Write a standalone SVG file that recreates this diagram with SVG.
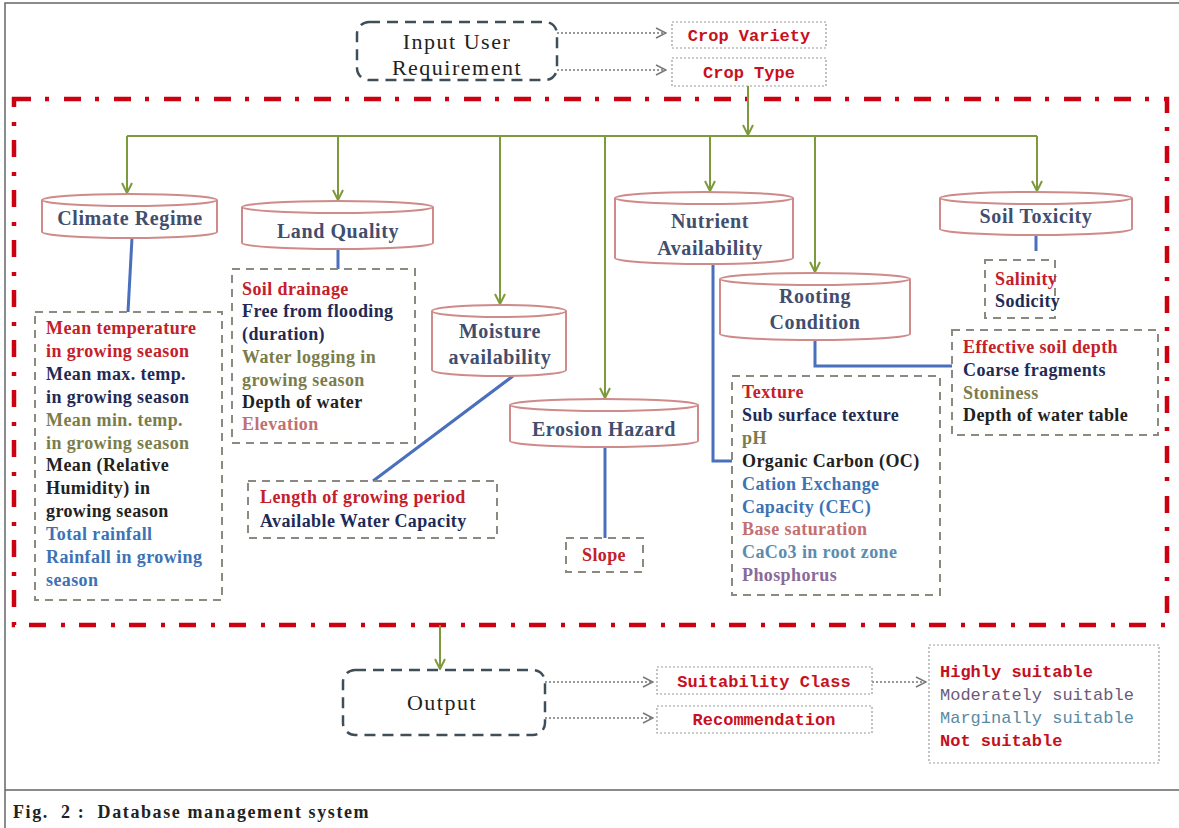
<svg xmlns="http://www.w3.org/2000/svg" width="1179" height="828" viewBox="0 0 1179 828">
<defs>
<marker id="ga" viewBox="0 0 12 12" refX="11" refY="6" markerWidth="12" markerHeight="12" markerUnits="userSpaceOnUse" orient="auto">
<polyline points="1,1 11,6 1,11" fill="none" stroke="#7d9a3c" stroke-width="2"/>
</marker>
<marker id="da" viewBox="0 0 12 12" refX="11" refY="6" markerWidth="12" markerHeight="12" markerUnits="userSpaceOnUse" orient="auto">
<polyline points="1,1 11,6 1,11" fill="none" stroke="#777" stroke-width="1.5"/>
</marker>
</defs>
<style>
.frame{fill:none;stroke:#666;stroke-width:1.5}
.redb{fill:none;stroke:#cc0010;stroke-width:4.5;stroke-dasharray:17 14 4 15}
.io{fill:none;stroke:#3e4f5a;stroke-width:2.5;stroke-dasharray:11 7}
.dot{fill:#fff;stroke:#999;stroke-width:1.2;stroke-dasharray:2 2}
.darr{fill:none;stroke:#777;stroke-width:1.5;stroke-dasharray:2 2}
.grn{fill:none;stroke:#7d9a3c;stroke-width:2}
.blu{fill:none;stroke:#4a6fbd;stroke-width:3}
.cyl{fill:#fff;stroke:#cf8a8a;stroke-width:2}
.dbox{fill:none;stroke:#8a8a80;stroke-width:2;stroke-dasharray:8 6}
.ser{font-family:"Liberation Serif","Times New Roman",serif;font-size:22px;fill:#222;letter-spacing:1.5px}
.cy{font-family:"Liberation Serif","Times New Roman",serif;font-size:20px;font-weight:bold;fill:#414e6e;letter-spacing:0.6px;text-anchor:middle}
.dt{font-family:"Liberation Serif","Times New Roman",serif;font-size:18px;font-weight:bold;letter-spacing:0.4px}
.mono{font-family:"Liberation Mono","Courier New",monospace;font-size:17px;font-weight:bold;fill:#c8101e;text-anchor:middle}
.cls{font-family:"Liberation Mono","Courier New",monospace;font-size:17px}
.red{fill:#c4202a}.nav{fill:#1f2a55}.olv{fill:#7a7d4a}.blk{fill:#222}.bl{fill:#3d72b4}.ros{fill:#c27070}.tea{fill:#5b8cae}.pur{fill:#8a6a98}
</style>

<!-- page frame -->
<g id="frame">
<path class="frame" d="M1179,3 H5 V828 M5,790 H1179"/>
</g>

<!-- red dash-dot boundary -->
<rect id="boundary" class="redb" x="14" y="99" width="1153" height="526"/>

<!-- connectors -->
<g id="connectors">
<path class="darr" d="M557,33 H666" marker-end="url(#da)"/>
<path class="darr" d="M557,70 H666" marker-end="url(#da)"/>
<path class="grn" d="M748,86 V135" marker-end="url(#ga)"/>
<path class="grn" d="M127,136 H1037"/>
<path class="grn" d="M127,136 V193" marker-end="url(#ga)"/>
<path class="grn" d="M338,136 V200" marker-end="url(#ga)"/>
<path class="grn" d="M500,136 V304" marker-end="url(#ga)"/>
<path class="grn" d="M605,136 V398" marker-end="url(#ga)"/>
<path class="grn" d="M710,136 V191" marker-end="url(#ga)"/>
<path class="grn" d="M815,136 V272" marker-end="url(#ga)"/>
<path class="grn" d="M1037,136 V191" marker-end="url(#ga)"/>
<path class="blu" d="M132,238 L128,312"/>
<path class="blu" d="M338,249 V269"/>
<path class="blu" d="M513,376 L373,481"/>
<path class="blu" d="M605,447 V538"/>
<path class="blu" d="M713,264 V461 H732"/>
<path class="blu" d="M815,340 V366 H952"/>
<path class="blu" d="M1036,235 V251"/>
<path class="grn" d="M440,625 V669" marker-end="url(#ga)"/>
<path class="darr" d="M545,682 H653" marker-end="url(#da)"/>
<path class="darr" d="M545,718 H653" marker-end="url(#da)"/>
<path class="darr" d="M872,682 H926" marker-end="url(#da)"/>
</g>

<!-- input -->
<g id="input">
<rect class="io" x="357" y="22" width="200" height="58" rx="12"/>
<text class="ser" x="457" y="49" text-anchor="middle">Input User</text>
<text class="ser" x="457" y="75" text-anchor="middle">Requirement</text>
</g>
<g id="crop-variety">
<rect class="dot" x="672" y="22" width="154" height="26"/>
<text class="mono" x="749" y="41">Crop Variety</text>
</g>
<g id="crop-type">
<rect class="dot" x="672" y="58" width="154" height="28"/>
<text class="mono" x="749" y="78">Crop Type</text>
</g>

<!-- cylinders -->
<g id="climate-regime">
<path class="cyl" d="M42,200 V232 A87.5,6 0 0 0 217,232 V200"/>
<ellipse class="cyl" cx="129.5" cy="200" rx="87.5" ry="6"/>
<text class="cy" x="130" y="225">Climate Regime</text>
</g>
<g id="land-quality">
<path class="cyl" d="M242,207 V243 A95.5,6 0 0 0 433,243 V207"/>
<ellipse class="cyl" cx="337.5" cy="207" rx="95.5" ry="6"/>
<text class="cy" x="338" y="238">Land Quality</text>
</g>
<g id="moisture">
<path class="cyl" d="M432,311 V370 A67,6 0 0 0 566,370 V311"/>
<ellipse class="cyl" cx="499" cy="311" rx="67" ry="6"/>
<text class="cy" x="500" y="338">Moisture</text>
<text class="cy" x="500" y="364">availability</text>
</g>
<g id="erosion-hazard">
<path class="cyl" d="M510,405 V441 A94,6 0 0 0 698,441 V405"/>
<ellipse class="cyl" cx="604" cy="405" rx="94" ry="6"/>
<text class="cy" x="604" y="436">Erosion Hazard</text>
</g>
<g id="nutrient">
<path class="cyl" d="M615,198 V258 A89,6 0 0 0 793,258 V198"/>
<ellipse class="cyl" cx="704" cy="198" rx="89" ry="6"/>
<text class="cy" x="710" y="228">Nutrient</text>
<text class="cy" x="710" y="255">Availability</text>
</g>
<g id="rooting">
<path class="cyl" d="M720,279 V334 A95,6 0 0 0 910,334 V279"/>
<ellipse class="cyl" cx="815" cy="279" rx="95" ry="6"/>
<text class="cy" x="815" y="303">Rooting</text>
<text class="cy" x="815" y="329">Condition</text>
</g>
<g id="soil-toxicity">
<path class="cyl" d="M940,198 V229 A96,6 0 0 0 1132,229 V198"/>
<ellipse class="cyl" cx="1036" cy="198" rx="96" ry="6"/>
<text class="cy" x="1036" y="223">Soil Toxicity</text>
</g>

<!-- detail boxes -->
<g id="climate-details">
<rect class="dbox" x="35" y="312" width="187" height="288"/>
<text class="dt" x="46">
<tspan class="red" x="46" y="334">Mean temperature</tspan>
<tspan class="red" x="46" y="357">in growing season</tspan>
<tspan class="nav" x="46" y="380">Mean max. temp.</tspan>
<tspan class="nav" x="46" y="403">in growing season</tspan>
<tspan class="olv" x="46" y="426">Mean min. temp.</tspan>
<tspan class="olv" x="46" y="449">in growing season</tspan>
<tspan class="blk" x="46" y="471">Mean (Relative</tspan>
<tspan class="blk" x="46" y="494">Humidity) in</tspan>
<tspan class="blk" x="46" y="517">growing season</tspan>
<tspan class="bl" x="46" y="540">Total rainfall</tspan>
<tspan class="bl" x="46" y="563">Rainfall in growing</tspan>
<tspan class="bl" x="46" y="586">season</tspan>
</text>
</g>
<g id="land-details">
<rect class="dbox" x="232" y="269" width="183" height="174"/>
<text class="dt">
<tspan class="red" x="242" y="295">Soil drainage</tspan>
<tspan class="nav" x="242" y="317">Free from flooding</tspan>
<tspan class="nav" x="242" y="340">(duration)</tspan>
<tspan class="olv" x="242" y="363">Water logging in</tspan>
<tspan class="olv" x="242" y="386">growing season</tspan>
<tspan class="blk" x="242" y="408">Depth of water</tspan>
<tspan class="ros" x="242" y="430">Elevation</tspan>
</text>
</g>
<g id="moisture-details">
<rect class="dbox" x="248" y="481" width="249" height="57"/>
<text class="dt">
<tspan class="red" x="260" y="503">Length of growing period</tspan>
<tspan class="nav" x="260" y="527">Available Water Capacity</tspan>
</text>
</g>
<g id="erosion-details">
<rect class="dbox" x="566" y="538" width="77" height="34"/>
<text class="dt red" x="604" y="561" text-anchor="middle">Slope</text>
</g>
<g id="nutrient-details">
<rect class="dbox" x="732" y="376" width="208" height="219"/>
<text class="dt">
<tspan class="red" x="742" y="398">Texture</tspan>
<tspan class="nav" x="742" y="421">Sub surface texture</tspan>
<tspan class="olv" x="742" y="444">pH</tspan>
<tspan class="blk" x="742" y="467">Organic Carbon (OC)</tspan>
<tspan class="bl" x="742" y="490">Cation Exchange</tspan>
<tspan class="bl" x="742" y="513">Capacity (CEC)</tspan>
<tspan class="ros" x="742" y="535">Base saturation</tspan>
<tspan class="tea" x="742" y="558">CaCo3 in root zone</tspan>
<tspan class="pur" x="742" y="581">Phosphorus</tspan>
</text>
</g>
<g id="toxicity-details">
<rect class="dbox" x="985" y="260" width="70" height="58"/>
<text class="dt">
<tspan class="red" x="995" y="285">Salinity</tspan>
<tspan class="nav" x="995" y="307">Sodicity</tspan>
</text>
</g>
<g id="rooting-details">
<rect class="dbox" x="952" y="330" width="206" height="105"/>
<text class="dt">
<tspan class="red" x="963" y="353">Effective soil depth</tspan>
<tspan class="nav" x="963" y="376">Coarse fragments</tspan>
<tspan class="olv" x="963" y="399">Stoniness</tspan>
<tspan class="blk" x="963" y="421">Depth of water table</tspan>
</text>
</g>

<!-- output -->
<g id="output">
<rect class="io" x="343" y="670" width="202" height="65" rx="12"/>
<text class="ser" x="442" y="710" text-anchor="middle">Output</text>
</g>
<g id="suitability-class">
<rect class="dot" x="657" y="667" width="215" height="27"/>
<text class="mono" x="764" y="687">Suitability Class</text>
</g>
<g id="recommendation">
<rect class="dot" x="657" y="706" width="215" height="27"/>
<text class="mono" x="764" y="725">Recommendation</text>
</g>
<g id="classes">
<rect class="dot" x="929" y="645" width="230" height="118"/>
<text class="cls">
<tspan x="940" y="677" font-weight="bold" fill="#c4101e">Highly suitable</tspan>
<tspan x="940" y="700" fill="#6a5a7c">Moderately suitable</tspan>
<tspan x="940" y="723" fill="#5a8aa2">Marginally suitable</tspan>
<tspan x="940" y="746" font-weight="bold" fill="#c4101e">Not suitable</tspan>
</text>
</g>

<!-- caption -->
<text id="caption" x="13" y="818" font-family="'Liberation Serif','Times New Roman',serif" font-size="18" font-weight="bold" fill="#222" letter-spacing="1.6" xml:space="preserve">Fig.  2 :  Database management system</text>
</svg>
